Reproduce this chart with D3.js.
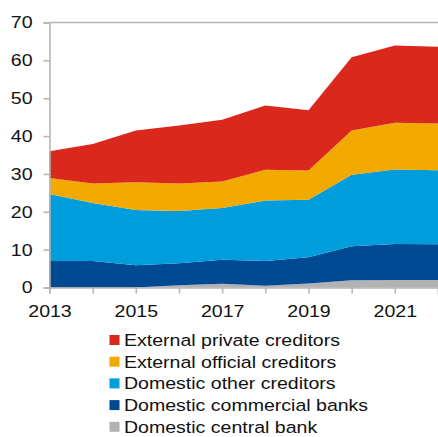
<!DOCTYPE html>
<html><head><meta charset="utf-8">
<script src="https://cdn.jsdelivr.net/npm/d3@7"></script>
<style>html,body{margin:0;padding:0;background:#fff;}svg{display:block;font-family:"Liberation Sans",Arial,sans-serif;}</style>
</head><body><svg id="c" width="438" height="437"></svg>
<script>
const years = [2013,2014,2015,2016,2017,2018,2019,2020,2021,2022];
const tickYears = [2013,2015,2017,2019,2021];
const yTicks = [0,10,20,30,40,50,60,70];
const seriesNames = ["Domestic central bank","Domestic commercial banks","Domestic other creditors","External official creditors","External private creditors"];
const centralBank = [0,0,0,0.6,1.0,0.45,1.05,1.9,2.0,2.0];
const commercialBanks = [7.0,7.0,5.9,5.8,6.3,6.55,6.95,9.0,9.5,9.4];
const otherCreditors = [17.7,15.3,14.6,13.8,13.7,16.0,15.2,18.9,19.7,19.6];
const officialCreditors = [4.2,5.2,7.3,7.3,7.0,8.1,7.7,11.7,12.3,12.3];
const privateCreditors = [7.1,10.4,13.7,15.3,16.3,17.0,15.9,19.3,20.4,20.3];
const colors = ["#b2b2b2","#004a93","#009ddc","#f2a900","#da291c"];

const seriesData = [centralBank,commercialBanks,otherCreditors,officialCreditors,privateCreditors];
const rows = years.map((y,i)=>{const r={year:y}; seriesNames.forEach((n,k)=>r[n]=seriesData[k][i]); return r;});
const stack = d3.stack().keys(seriesNames)(rows);

const svg = d3.select("#c");
const m = {l:49.5, r:438, t:22.5, b:287.5};
const x = d3.scaleLinear().domain([2013,2022]).range([m.l, m.r]);
const y = d3.scaleLinear().domain([0,70]).range([m.b, m.t]);
const SX = 1.15;

const area = d3.area().x(d=>x(d.data.year)).y0(d=>y(d[0])).y1(d=>y(d[1]));
svg.append("g").selectAll("path").data(stack).join("path")
  .attr("d", area).attr("fill",(d,i)=>colors[i]);

const axisColor = "#b3b3b3";
svg.append("line").attr("x1",m.l).attr("x2",m.r).attr("y1",y(70)).attr("y2",y(70)).attr("stroke",axisColor).attr("stroke-width",1.5);

const yAxis = svg.append("g").attr("transform",`translate(${m.l},0)`)
  .call(d3.axisLeft(y).tickValues(yTicks).tickSize(6).tickPadding(11).tickFormat(d3.format("d")));
const xAxis = svg.append("g").attr("transform",`translate(0,${m.b})`)
  .call(d3.axisBottom(x).tickValues(years).tickSize(6).tickPadding(11).tickFormat(d=>tickYears.includes(d)?String(d):""));
[yAxis,xAxis].forEach(g=>{
  g.selectAll("path.domain").attr("stroke",axisColor).attr("stroke-width",1.5);
  g.selectAll(".tick line").attr("stroke",axisColor).attr("stroke-width",1.5);
  g.selectAll("text").attr("fill","#111").attr("font-size","17px").attr("font-family","Liberation Sans, Arial, sans-serif")
    .attr("transform",function(){const tx=+this.getAttribute("x")||0; return `translate(${tx},0) scale(${SX},1) translate(${-tx},0)`;});
});

const legend = svg.append("g");
const legItems = seriesNames.map((n,i)=>({name:n,color:colors[i]})).reverse();
legItems.forEach((d,i)=>{
  const cy = 340 + i*21.7;
  legend.append("rect").attr("x",109.5).attr("y",cy-5).attr("width",10).attr("height",10).attr("fill",d.color);
  legend.append("text").attr("x",124).attr("y",cy+6).attr("font-size","17px").attr("fill","#111")
    .attr("transform",`translate(124,0) scale(${SX},1) translate(-124,0)`).text(d.name);
});
</script></body></html>
